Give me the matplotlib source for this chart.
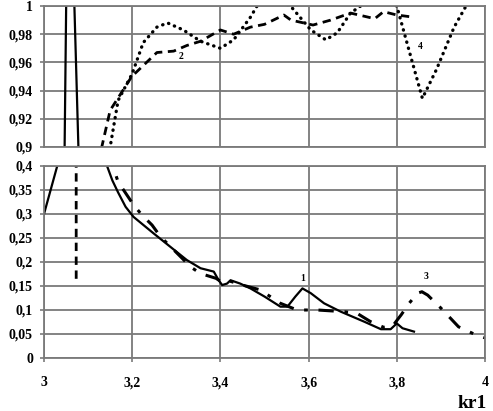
import matplotlib
matplotlib.use('Agg')
import matplotlib.pyplot as plt
import matplotlib.ticker as ticker


### DATA

# curve 1 - solid
x1 = [3.00, 3.03, 3.045, 3.052, 3.058, 3.078, 3.10, 3.143, 3.155, 3.168, 3.185, 3.203, 3.248,
      3.286, 3.324, 3.355, 3.385, 3.396, 3.404, 3.415, 3.423, 3.445, 3.468, 3.50, 3.536, 3.552,
      3.57, 3.586, 3.605, 3.635, 3.673, 3.726, 3.764, 3.786, 3.80, 3.813, 3.839]
y1 = [0.30, 0.40, 0.85, 1.05, 1.12, 0.90, 0.62, 0.40, 0.37, 0.345, 0.315, 0.294, 0.26,
      0.232, 0.204, 0.187, 0.18, 0.162, 0.152, 0.155, 0.162, 0.155, 0.145, 0.128, 0.107, 0.107,
      0.128, 0.145, 0.135, 0.114, 0.0965, 0.0757, 0.06, 0.06, 0.072, 0.062, 0.055]

# curve 2 - dashed
x2 = [3.073, 3.073, 3.12, 3.131, 3.15, 3.199, 3.256, 3.294, 3.324, 3.355, 3.40, 3.43, 3.468,
      3.50, 3.544, 3.56, 3.61, 3.65, 3.695, 3.75, 3.77, 3.80, 3.83]
y2 = [0.165, 0.60, 0.80, 0.90, 0.926, 0.95, 0.967, 0.968, 0.972, 0.975, 0.983, 0.980, 0.985,
      0.987, 0.9936, 0.990, 0.9865, 0.99, 0.995, 0.991, 0.996, 0.9936, 0.9924]

# curve 3 - dash-dot
x3 = [3.145, 3.168, 3.203, 3.222, 3.245, 3.264, 3.313, 3.332, 3.355, 3.39, 3.40, 3.415, 3.45,
      3.49, 3.536, 3.574, 3.62, 3.68, 3.71, 3.74, 3.77, 3.79, 3.81, 3.828, 3.847, 3.857, 3.87,
      3.90, 3.94, 3.975, 4.0]
y3 = [0.43, 0.367, 0.319, 0.298, 0.277, 0.253, 0.208, 0.19, 0.176, 0.166, 0.16, 0.162, 0.152,
      0.142, 0.114, 0.10, 0.10, 0.0965, 0.093, 0.076, 0.064, 0.066, 0.09, 0.114, 0.135, 0.138, 0.131,
      0.104, 0.065, 0.05, 0.042]

# curve 4 - dotted
x4 = [3.12, 3.15, 3.168, 3.20, 3.225, 3.256, 3.28, 3.316, 3.355, 3.40, 3.43, 3.468, 3.483,
      3.52, 3.559, 3.605, 3.639, 3.665, 3.695, 3.718, 3.76, 3.80, 3.83, 3.858, 3.89, 3.93, 3.957, 3.99]
y4 = [0.85, 0.90, 0.933, 0.952, 0.974, 0.985, 0.988, 0.983, 0.975, 0.970, 0.976, 0.992, 1.0,
      1.006, 1.0, 0.983, 0.976, 0.981, 0.995, 1.0, 1.004, 1.0, 0.966, 0.9345, 0.955, 0.985, 1.0, 1.01]

x_ticks = [3, 3.2, 3.4, 3.6, 3.8, 4]
top_ticks = [0.9, 0.92, 0.94, 0.96, 0.98, 1]
bottom_ticks = [0, 0.05, 0.1, 0.15, 0.2, 0.25, 0.3, 0.35, 0.4]


### STYLE

plt.rcParams['font.family'] = ['Liberation Serif', 'DejaVu Serif']
plt.rcParams['font.weight'] = 'bold'
grid_c = '#7a7a7a'

fig = plt.figure(figsize=(4.93, 4.11), dpi=100)
ax_top = fig.add_axes([44/493, 1 - 147/411, 441/493, 141/411])
ax_bot = fig.add_axes([44/493, 1 - 358/411, 441/493, 192/411])

comma = ticker.FuncFormatter(lambda v, _: f'{v:g}'.replace('.', ','))

styles = [
    (x1, y1, dict(linestyle='-', linewidth=1.6)),
    (x2, y2, dict(linestyle=(0, (3.0, 2.0)), linewidth=2.0)),
    (x3, y3, dict(linestyle=(0, (5, 3.5, 1.2, 3.5)), linewidth=2.2)),
    (x4, y4, dict(linestyle=(0, (0.1, 1.8)), linewidth=2.4, dash_capstyle='round')),
]

for ax, ylim, yt in [(ax_top, (0.9, 1.0), top_ticks), (ax_bot, (0, 0.4), bottom_ticks)]:
    for xs, ys, kw in styles:
        ax.plot(xs, ys, color='black', **kw)
    ax.set_xlim(3, 4)
    ax.set_ylim(*ylim)
    ax.set_xticks(x_ticks)
    ax.set_yticks(yt)
    ax.grid(True, color=grid_c, linewidth=1.3)
    ax.set_axisbelow(True)
    for s in ax.spines.values():
        s.set_color(grid_c)
        s.set_linewidth(1.3)
    ax.tick_params(colors=grid_c, length=3, width=1.2, labelcolor='black', labelsize=10, pad=5)
    ax.xaxis.set_major_formatter(comma)
    ax.yaxis.set_major_formatter(comma)
    for lbl in ax.get_xticklabels() + ax.get_yticklabels():
        lbl.set_fontweight('bold')

ax_top.tick_params(axis='x', labelbottom=False, length=0)
ax_bot.tick_params(axis='x', pad=10)

# curve numbers
ax_top.text(3.31, 0.964, '2', fontsize=7, fontweight='bold', ha='center', va='center')
ax_top.text(3.853, 0.971, '4', fontsize=7, fontweight='bold', ha='center', va='center')
ax_bot.text(3.586, 0.166, '1', fontsize=7, fontweight='bold', ha='center', va='center')
ax_bot.text(3.866, 0.17, '3', fontsize=7, fontweight='bold', ha='center', va='center')

fig.text(472/493, 1 - 403/411, 'kr1', fontsize=14, fontweight='bold', ha='center', va='center')

fig.savefig('out.png', dpi=100)
